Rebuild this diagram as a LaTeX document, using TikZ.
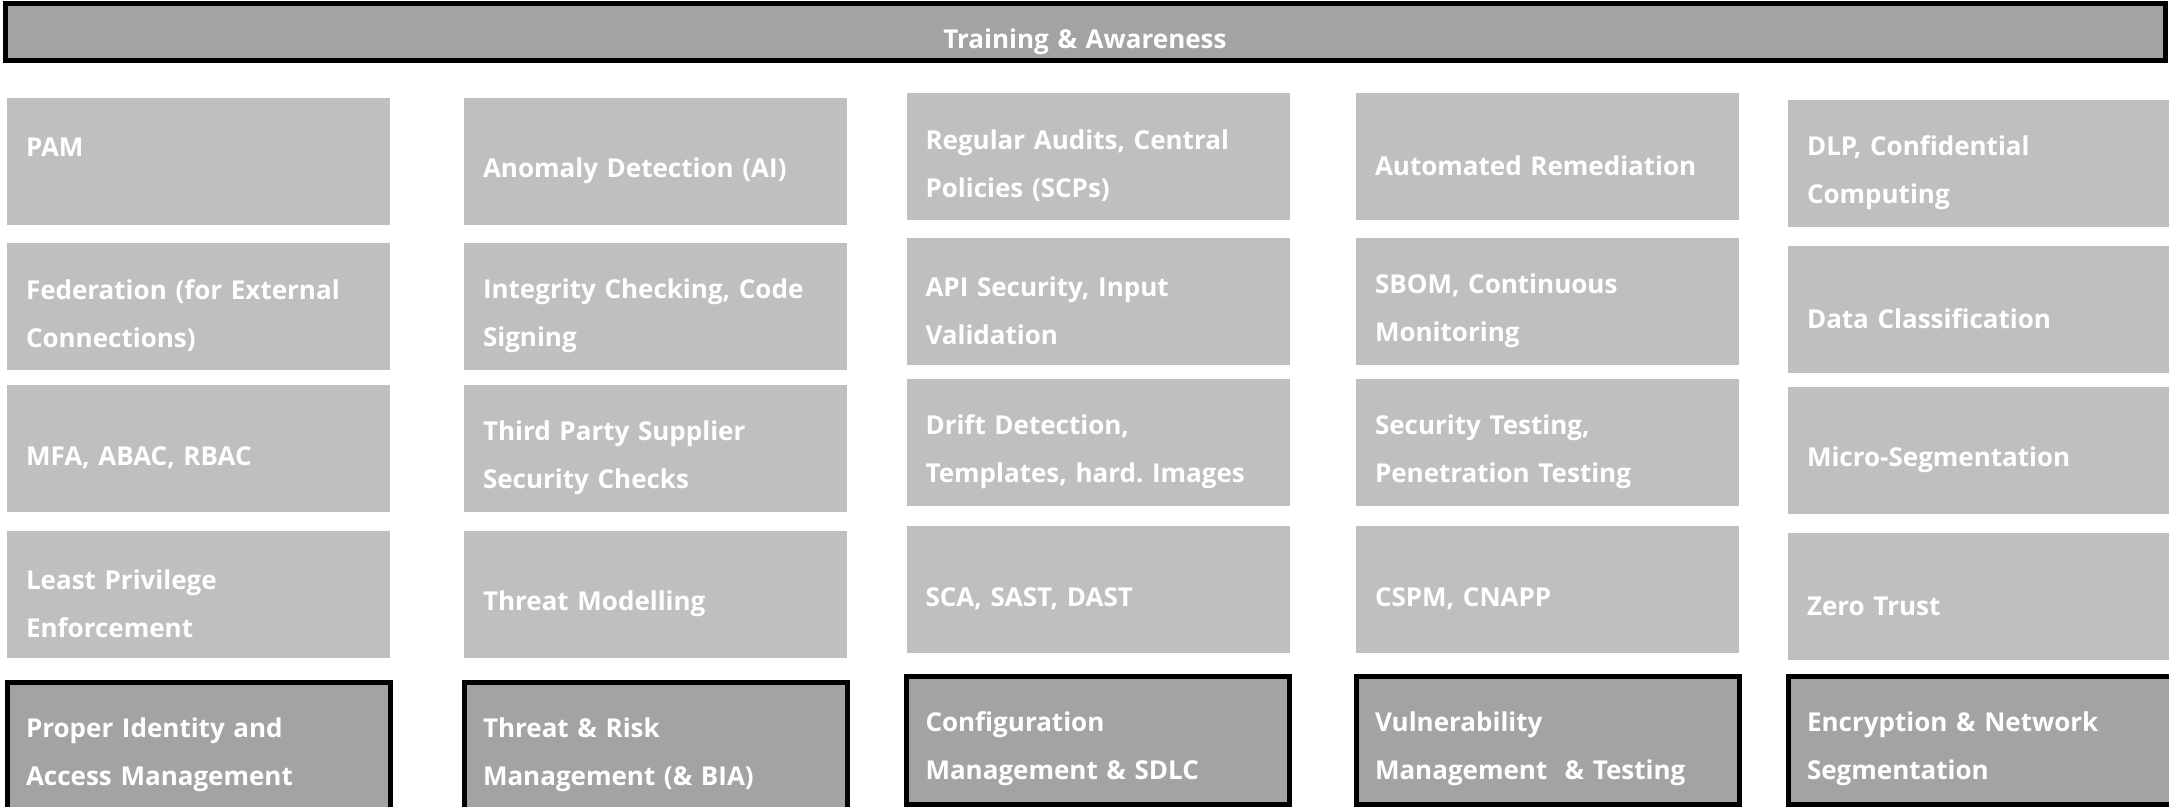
\documentclass[tikz,border=0pt]{standalone}
\usepackage{fontspec}
\setmainfont{Open Sans}
\usepackage{tikz}
\definecolor{cellgray}{RGB}{191,191,191}
\definecolor{basegray}{RGB}{163,163,163}

\begin{document}
\begin{tikzpicture}[x=0.5pt, y=-0.5pt,
    cell/.style={rectangle, fill=cellgray, text=white, align=left,
        font=\fontsize{13}{24}\selectfont\bfseries,
        execute at begin node={\rule{0pt}{19pt}},
        minimum width=191.5pt, minimum height=63.5pt,
        text width=172.5pt, inner xsep=9.5pt, inner ysep=0pt},
    pillar/.style={cell, fill=basegray, draw=black, line width=2.5pt,
        minimum height=64pt},
    banner/.style={cell, fill=basegray, draw=black, line width=2.5pt,
        align=center, text width=1060pt, minimum width=1080pt,
        minimum height=28.5pt}]
    \path[use as bounding box] (0,0) rectangle (2169,807);
    \clip (0,0) rectangle (2169,807);

    % Roof
    \node[banner] (training) at (1085,32.5) {Training \& Awareness};

    % Identity column
    \node[cell] (pam)        at (198.5,161.5) {PAM\\\mbox{}};
    \node[cell] (federation) at (198.5,306.5) {Federation (for External\\Connections)};
    \node[cell] (mfa)        at (198.5,448.5) {MFA, ABAC, RBAC};
    \node[cell] (leastpriv)  at (198.5,594.5) {Least Privilege\\Enforcement};
    \node[pillar] (iam)      at (198.5,746)   {Proper Identity and\\Access Management};

    % Threat & risk column
    \node[cell] (anomaly)    at (655.5,161.5) {Anomaly Detection (AI)};
    \node[cell] (integrity)  at (655.5,306.5) {Integrity Checking, Code\\Signing};
    \node[cell] (thirdparty) at (655.5,448.5) {Third Party Supplier\\Security Checks};
    \node[cell] (threatmod)  at (655.5,594.5) {Threat Modelling};
    \node[pillar] (risk)     at (655.5,746)   {Threat \& Risk\\Management (\& BIA)};

    % Configuration column
    \node[cell] (audits)     at (1098,156.5) {Regular Audits, Central\\Policies (SCPs)};
    \node[cell] (apisec)     at (1098,301.5) {API Security, Input\\Validation};
    \node[cell] (drift)      at (1098,442.5) {Drift Detection,\\Templates, hard.\ Images};
    \node[cell] (sca)        at (1098,589.5) {SCA, SAST, DAST};
    \node[pillar] (config)   at (1098,740)   {Configuration\\Management \& SDLC};

    % Vulnerability column
    \node[cell] (remediation) at (1547.5,156.5) {Automated Remediation};
    \node[cell] (sbom)        at (1547.5,301.5) {SBOM, Continuous\\Monitoring};
    \node[cell] (sectest)     at (1547.5,442.5) {Security Testing,\\Penetration Testing};
    \node[cell] (cspm)        at (1547.5,589.5) {CSPM, CNAPP};
    \node[pillar] (vuln)      at (1547.5,740)   {Vulnerability\\Management\ \ \& Testing};

    % Encryption column
    \node[cell] (dlp)        at (1979.5,163.5) {DLP, Confidential\\Computing};
    \node[cell] (dataclass)  at (1979.5,309.5) {Data Classification};
    \node[cell] (microseg)   at (1979.5,450.5) {Micro-Segmentation};
    \node[cell] (zerotrust)  at (1979.5,596.5) {Zero Trust};
    \node[pillar] (encrypt)  at (1979.5,740)   {Encryption \& Network\\Segmentation};
\end{tikzpicture}
\end{document}
